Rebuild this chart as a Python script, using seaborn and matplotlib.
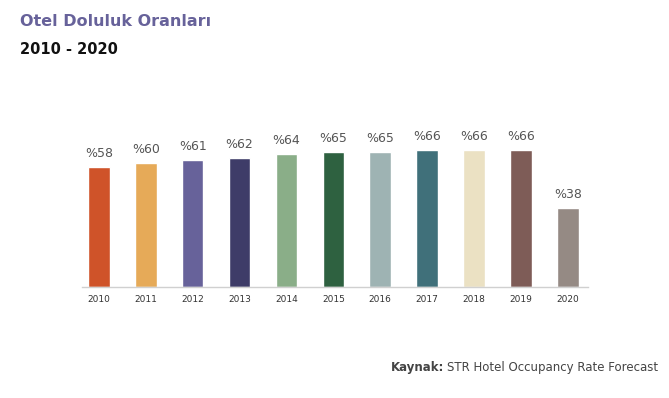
import matplotlib
matplotlib.use('Agg')
import matplotlib.pyplot as plt
import seaborn as sns
import pandas as pd

years = ['2010', '2011', '2012', '2013', '2014', '2015',
         '2016', '2017', '2018', '2019', '2020']
occupancy = [58, 60, 61, 62, 64, 65, 65, 66, 66, 66, 38]
colors = ['#cf5329', '#e6aa58', '#67629a', '#3e3c68', '#8aae88', '#2e6140',
          '#9eb3b3', '#40707a', '#ebe1c3', '#7e5c57', '#958a84']


def main():
    sns.set_style('white')
    plt.rcParams['font.family'] = ['DejaVu Sans']

    df = pd.DataFrame({'year': years, 'rate': occupancy})

    fig = plt.figure(figsize=(6.69, 3.98), dpi=100)
    ax = fig.add_axes([82 / 669, 1 - 287 / 398, (588 - 82) / 669, 166 / 398])

    sns.barplot(ax=ax, data=df, x='year', y='rate', hue='year',
                palette=colors, legend=False, width=0.46, saturation=1)

    for c in ax.containers:
        ax.bar_label(c, labels=['%' + str(int(v)) for v in c.datavalues],
                     padding=5, fontsize=9, color='#555555')

    ax.set_xlim(-0.36, 10.43)
    ax.set_ylim(0, 80)
    ax.set(xlabel='', ylabel='')
    ax.set_yticks([])
    ax.tick_params(axis='x', length=0, labelsize=6.5, labelcolor='#333333', pad=6)
    for s in ['top', 'right', 'left']:
        ax.spines[s].set_visible(False)
    ax.spines['bottom'].set_color('#d0d0d0')
    ax.spines['bottom'].set_linewidth(1)

    fig.text(20 / 669, 1 - 21 / 398, 'Otel Doluluk Oranları', fontsize=11.5,
             fontweight='bold', color='#67629a', va='center')
    fig.text(20 / 669, 1 - 49 / 398, '2010 - 2020', fontsize=10.5,
             fontweight='bold', color='#111111', va='center')

    src = fig.text(658 / 669, 1 - 367 / 398, 'STR Hotel Occupancy Rate Forecast',
                   fontsize=8.5, color='#444444', ha='right', va='center')
    fig.canvas.draw()
    bb = src.get_window_extent()
    fig.text(bb.x0 / 669 - 0.004, 1 - 367 / 398, 'Kaynak:', fontsize=8.5,
             fontweight='bold', color='#444444', ha='right', va='center')

    fig.savefig('out.png', dpi=100)


if __name__ == "__main__":
    main()
